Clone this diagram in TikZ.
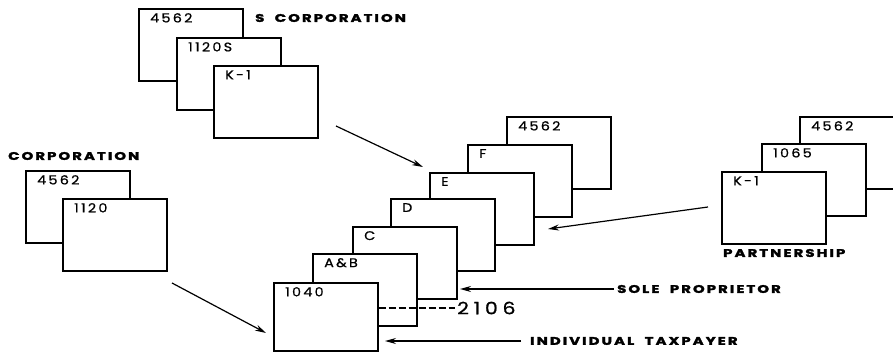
\documentclass[tikz,border=0pt]{standalone}
\usepackage{fontspec}
\setmainfont{Poppins}
\newfontfamily\formfont{Poppins}[FakeStretch=1.15, FakeBold=0.8, LetterSpace=18]
\newfontfamily\bigfont{Poppins}[FakeStretch=1.2, FakeBold=0.8, LetterSpace=28]
\newfontfamily\capfont{Poppins}[FakeStretch=1.35, FakeBold=2.5, LetterSpace=19, WordSpace=2]
\usetikzlibrary{arrows.meta,positioning}

\tikzset{
  form/.style={draw, line width=1.6pt, fill=white, minimum width=104pt,
    minimum height=72pt, anchor=north west, inner sep=0pt},
  formno/.style={font=\formfont\fontsize{12.5}{13}\selectfont, anchor=north west,
    inner sep=0pt, xshift=12pt, yshift=-5pt},
  caption/.style={font=\capfont\bfseries\fontsize{11}{11}\selectfont, anchor=west, inner sep=0pt},
  feed/.style={line width=1.2pt, -{Stealth[length=11pt,width=6pt]}}
}

\begin{document}
\begin{tikzpicture}[x=1pt, y=-1pt]
    \useasboundingbox (0,0) rectangle (893,352);

    % S corporation
    \node[form, label={[formno]north west:4562}] (s4562) at (138,8) {};
    \node[form, label={[formno]north west:1120S}] (s1120s) at (176,37) {};
    \node[form, label={[formno]north west:K-1}] (sk1) at (213,65) {};
    \node[caption] (scorp) at (255,18) {S CORPORATION};

    % corporation
    \node[caption] (corp) at (8,156) {CORPORATION};
    \node[form, label={[formno]north west:4562}] (c4562) at (25,170) {};
    \node[form, label={[formno]north west:1120}] (c1120) at (62,198) {};

    % individual stack
    \node[form, label={[formno]north west:4562}] (i4562) at (506,116) {};
    \node[form, label={[formno]north west:F}] (iF) at (467,144) {};
    \node[form, label={[formno]north west:E}] (iE) at (429,172) {};
    \node[form, label={[formno]north west:D}] (iD) at (390,198) {};
    \node[form, label={[formno]north west:C}] (iC) at (352,226) {};
    \node[form, label={[formno]north west:A\&B}] (iAB) at (312,253) {};
    \node[form, minimum height=68pt, label={[formno]north west:1040}] (i1040) at (273,282) {};

    % partnership
    \node[form, label={[formno]north west:4562}] (p4562) at (799,116) {};
    \node[form, label={[formno]north west:1065}] (p1065) at (761,143) {};
    \node[form, label={[formno]north west:K-1}] (pk1) at (721,171) {};
    \node[caption] (partner) at (723,253) {PARTNERSHIP};

    % labels on the right
    \node[caption] (sole) at (617,289) {SOLE PROPRIETOR};
    \node[caption] (indiv) at (530,341) {INDIVIDUAL TAXPAYER};
    \node[anchor=west, inner sep=0pt, font=\bigfont\fontsize{17}{17}\selectfont] (sched) at (457,308) {2106};

    % arrows
    \coordinate (sTail) at (336,126);
    \coordinate (sTip) at (423,167);
    \coordinate (cTail) at (172,283);
    \coordinate (cTip) at (266,333);
    \coordinate (pTail) at (708,207);
    \coordinate (pTip) at (548,229);
    \coordinate (soleTip) at (460,289);
    \coordinate (indivTip) at (385,341);
    \draw[feed] (sTail) -- (sTip);
    \draw[feed] (cTail) -- (cTip);
    \draw[feed] (pTail) -- (pTip);
    \draw[feed] ([xshift=-3pt]sole.west) -- (soleTip);
    \draw[feed] ([xshift=-9pt]indiv.west) -- (indivTip);
    \draw[line width=1.2pt, dash pattern=on 7pt off 3pt] (i1040.east |- sched.west) -- ([xshift=-2pt]sched.west);
\end{tikzpicture}
\end{document}
